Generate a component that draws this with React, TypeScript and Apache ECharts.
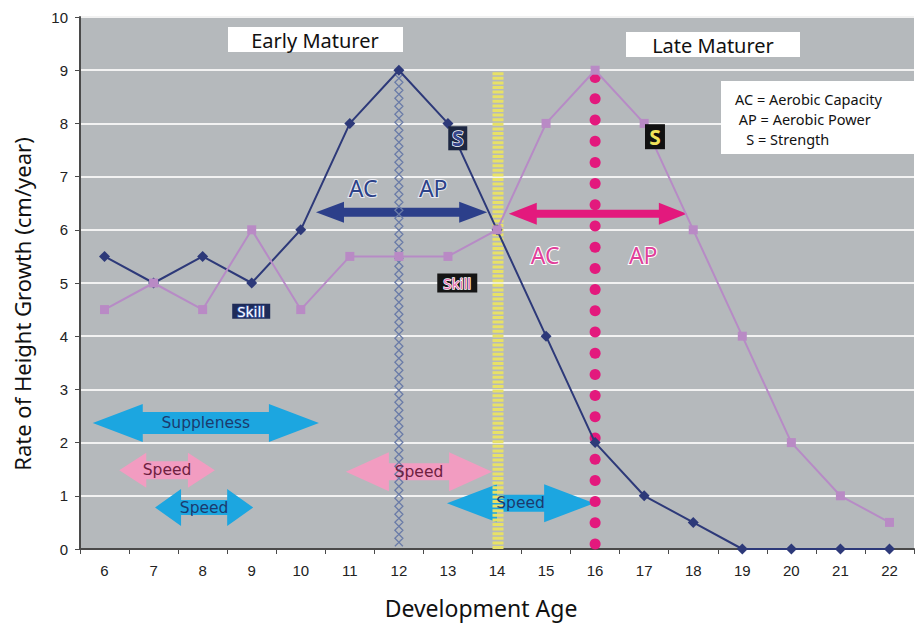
import React, { useEffect, useRef } from "react";
import * as echarts from "echarts";

// ---- data ----
const ages = ["6", "7", "8", "9", "10", "11", "12", "13", "14", "15", "16", "17", "18", "19", "20", "21", "22"];
const earlyMaturer = [5.5, 5, 5.5, 5, 6, 8, 9, 8, 6, 4, 2, 1, 0.5, 0, 0, 0, 0];
const lateMaturer = [4.5, 5, 4.5, 6, 4.5, 5.5, 5.5, 5.5, 6, 8, 9, 8, 6, 4, 2, 1, 0.5];

// double arrows (in age / growth units)
const arrowLabels = ["", "", "Suppleness", "Speed", "Speed", "Speed", "Speed"];
const arrowStart = [10.31, 14.24, 5.76, 6.3, 7.03, 10.92, 12.98];
const arrowEnd = [13.8, 17.87, 10.37, 8.25, 9.03, 13.9, 15.98];
const arrowLevel = [6.33, 6.3, 2.37, 1.48, 0.78, 1.45, 0.86];

// vertical markers (age, top value)
const markerAges = [12, 14, 16];
const markerTops = [9, 9, 9];

// text notes
const noteTexts = ["AC", "AP", "AC", "AP", "S", "S", "Skill", "Skill"];
const noteAges = [11.27, 12.7, 14.98, 16.98, 13.2, 17.22, 8.99, 13.19];
const noteValues = [6.78, 6.78, 5.53, 5.53, 7.72, 7.75, 4.47, 5.0];

const legendLines = ["AC = Aerobic Capacity", " AP = Aerobic Power", "   S = Strength"];
const xTitle = "Development Age";
const yTitle = "Rate of Height Growth (cm/year)";

// ---- styles ----
const arrowStyles = [
  { head: 28, headH: 21, shaft: 9, color: "#2c3f8a", text: "#1b3a6e" },
  { head: 28, headH: 22, shaft: 8, color: "#e3197d", text: "#1b3a6e" },
  { head: 50, headH: 38, shaft: 22, color: "#1ca6e0", text: "#1b3a6e" },
  { head: 27, headH: 35, shaft: 18, color: "#f29cc1", text: "#6e2040" },
  { head: 26, headH: 37, shaft: 15, color: "#1ca6e0", text: "#1b3a6e" },
  { head: 43, headH: 39, shaft: 17, color: "#f29cc1", text: "#6e2040" },
  { head: 50, headH: 38, shaft: 17, color: "#1ca6e0", text: "#1b3a6e" },
];

const noteStyles = [
  { fill: "#2c4288", stroke: "#e8eaf2", size: 23, box: null },
  { fill: "#2c4288", stroke: "#e8eaf2", size: 23, box: null },
  { fill: "#e0409a", stroke: "#ffffff", size: 23, box: null },
  { fill: "#e0409a", stroke: "#ffffff", size: 23, box: null },
  { fill: "#34468c", stroke: "#ffffff", size: 21, box: { w: 19, h: 24, c: "#1d2742" } },
  { fill: "#f0e25a", stroke: "#111111", size: 21, box: { w: 20, h: 25, c: "#111111" } },
  { fill: "#ffffff", stroke: "#3e5aa8", size: 15, box: { w: 38, h: 15, c: "#1e2b58" } },
  { fill: "#e36fb0", stroke: "#ffffff", size: 15, box: { w: 40, h: 19, c: "#151515" } },
];

const App: React.FC = () => {
  const ref = useRef<HTMLDivElement>(null);

  useEffect(() => {
    if (!ref.current) return;
    const chart = echarts.init(ref.current, null, { renderer: "svg" });

    const arrowData = arrowStart.map((s, i) => [s, arrowEnd[i], arrowLevel[i]]);
    const markerData = markerAges.map((a, i) => [a, markerTops[i]]);
    const noteData = noteAges.map((a, i) => [a, noteValues[i]]);

    const option: any = {
      animation: false,
      backgroundColor: "#ffffff",
      grid: {
        left: 80,
        right: 7,
        top: 17,
        bottom: 77,
        show: true,
        backgroundColor: "#b5b9bc",
        borderWidth: 0,
      },
      xAxis: [
        {
          type: "category",
          data: ages,
          boundaryGap: true,
          axisLine: { show: true, lineStyle: { color: "#4a4a4a", width: 2 } },
          axisTick: { show: true, inside: false, length: 5, alignWithLabel: false, lineStyle: { color: "#4a4a4a" } },
          axisLabel: { fontFamily: "Liberation Sans", fontSize: 15, color: "#222", margin: 14 },
          splitLine: { show: false },
        },
        {
          type: "value",
          min: 5.5,
          max: 22.5,
          show: false,
        },
      ],
      yAxis: {
        type: "value",
        min: 0,
        max: 10,
        interval: 1,
        axisLine: { show: true, lineStyle: { color: "#4a4a4a", width: 2 } },
        axisTick: { show: true, length: 5, lineStyle: { color: "#4a4a4a" } },
        axisLabel: { fontFamily: "Liberation Sans", fontSize: 15, color: "#222", margin: 12 },
        splitLine: { show: true, lineStyle: { color: "#f2f2f2", width: 2 } },
      },
      series: [
        {
          type: "custom",
          name: "arrows",
          xAxisIndex: 1,
          z: 2,
          data: arrowData,
          renderItem: (params: any, api: any) => {
            const i = params.dataIndex;
            const st = arrowStyles[i];
            const p1 = api.coord([api.value(0), api.value(2)]);
            const p2 = api.coord([api.value(1), api.value(2)]);
            const x1 = p1[0];
            const x2 = p2[0];
            const y = p1[1];
            const h = st.head;
            const H = st.headH / 2;
            const s = st.shaft / 2;
            const points = [
              [x1, y], [x1 + h, y - H], [x1 + h, y - s], [x2 - h, y - s], [x2 - h, y - H],
              [x2, y], [x2 - h, y + H], [x2 - h, y + s], [x1 + h, y + s], [x1 + h, y + H],
            ];
            return { type: "polygon", shape: { points }, style: { fill: st.color } };
          },
        },
        {
          type: "custom",
          name: "markers",
          xAxisIndex: 1,
          z: 3,
          data: markerData,
          renderItem: (params: any, api: any) => {
            const i = params.dataIndex;
            const top = api.coord([api.value(0), api.value(1)]);
            const bot = api.coord([api.value(0), 0]);
            const x = top[0];
            const children: any[] = [];
            if (i === 0) {
              const ptsA: number[][] = [];
              const ptsB: number[][] = [];
              let k = 0;
              for (let y = top[1]; y <= bot[1] - 1; y += 4) {
                const off = k % 2 === 0 ? 0 : 4;
                ptsA.push([x - off, y]);
                ptsB.push([x + off, y]);
                k++;
              }
              children.push({ type: "polyline", shape: { points: ptsA }, style: { stroke: "#6b7ca8", lineWidth: 1.3, fill: null } });
              children.push({ type: "polyline", shape: { points: ptsB }, style: { stroke: "#6b7ca8", lineWidth: 1.3, fill: null } });
            } else if (i === 1) {
              children.push({
                type: "line",
                shape: { x1: x + 1, y1: top[1] + 2, x2: x + 1, y2: bot[1] },
                style: { stroke: "#e8e166", lineWidth: 11, lineDash: [3, 1.6] },
              });
            } else {
              for (let y = bot[1] - 5; y >= top[1] + 6; y -= 21.2) {
                children.push({ type: "circle", shape: { cx: x, cy: y, r: 5.5 }, style: { fill: "#e3197d" } });
              }
            }
            return { type: "group", children };
          },
        },
        {
          type: "line",
          name: "Early Maturer",
          data: earlyMaturer,
          z: 4,
          symbol: "diamond",
          symbolSize: 11,
          lineStyle: { color: "#2d3979", width: 2 },
          itemStyle: { color: "#2d3979" },
        },
        {
          type: "line",
          name: "Late Maturer",
          data: lateMaturer,
          z: 4,
          symbol: "rect",
          symbolSize: 9,
          lineStyle: { color: "#b78bc6", width: 2 },
          itemStyle: { color: "#b98ac5" },
        },
        {
          type: "custom",
          name: "arrowText",
          xAxisIndex: 1,
          z: 5,
          data: arrowData,
          renderItem: (params: any, api: any) => {
            const i = params.dataIndex;
            const st = arrowStyles[i];
            const p1 = api.coord([api.value(0), api.value(2)]);
            const p2 = api.coord([api.value(1), api.value(2)]);
            return {
              type: "text",
              style: {
                text: arrowLabels[i],
                x: (p1[0] + p2[0]) / 2,
                y: p1[1],
                align: "center",
                verticalAlign: "middle",
                fill: st.text,
                fontFamily: "DejaVu Sans",
                fontSize: 15.5,
              },
            };
          },
        },
        {
          type: "custom",
          name: "notes",
          xAxisIndex: 1,
          z: 5,
          data: noteData,
          renderItem: (params: any, api: any) => {
            const i = params.dataIndex;
            const st = noteStyles[i];
            const p = api.coord([api.value(0), api.value(1)]);
            const children: any[] = [];
            if (st.box) {
              children.push({
                type: "rect",
                shape: { x: p[0] - st.box.w / 2, y: p[1] - st.box.h / 2, width: st.box.w, height: st.box.h },
                style: { fill: st.box.c },
              });
            }
            children.push({
              type: "text",
              style: {
                text: noteTexts[i],
                x: p[0],
                y: p[1],
                align: "center",
                verticalAlign: "middle",
                fill: st.fill,
                stroke: st.stroke,
                lineWidth: st.box ? 1.5 : 2,
                fontFamily: "Noto Sans",
                fontWeight: st.box && noteTexts[i] === "S" ? "bold" : "normal",
                fontSize: st.size,
              },
            });
            return { type: "group", children };
          },
        },
      ],
      graphic: [
        {
          type: "group",
          left: 228,
          top: 27,
          z: 50,
          children: [
            { type: "rect", z: 50, shape: { x: 0, y: 0, width: 175, height: 25 }, style: { fill: "#ffffff" } },
            { type: "text", z: 51, style: { text: "Early Maturer", x: 87, y: 13, align: "center", verticalAlign: "middle", fill: "#111", fontFamily: "Noto Sans", fontSize: 20 } },
          ],
        },
        {
          type: "group",
          left: 626,
          top: 32,
          z: 50,
          children: [
            { type: "rect", z: 50, shape: { x: 0, y: 0, width: 174, height: 25 }, style: { fill: "#ffffff" } },
            { type: "text", z: 51, style: { text: "Late Maturer", x: 87, y: 13, align: "center", verticalAlign: "middle", fill: "#111", fontFamily: "Noto Sans", fontSize: 20 } },
          ],
        },
        {
          type: "rect",
          left: 721,
          top: 81,
          z: 50,
          shape: { x: 0, y: 0, width: 193, height: 73 },
          style: { fill: "#ffffff" },
        },
        ...legendLines.map((t, i) => ({
          type: "text",
          x: 735,
          y: 98.5 + i * 20,
          z: 51,
          style: { text: t, x: 0, y: 0, verticalAlign: "middle", fill: "#111", fontFamily: "Noto Sans", fontSize: 14.5 },
        })),
        {
          type: "text",
          x: 481,
          y: 608,
          z: 51,
          style: { text: xTitle, x: 0, y: 0, align: "center", verticalAlign: "middle", fill: "#111", fontFamily: "Noto Sans", fontSize: 23 },
        },
        {
          type: "text",
          x: 22,
          y: 304,
          z: 51,
          rotation: Math.PI / 2,
          style: { text: yTitle, x: 0, y: 0, align: "center", verticalAlign: "middle", fill: "#111", fontFamily: "Noto Sans", fontSize: 22 },
        },
      ],
    };

    chart.setOption(option);
    return () => chart.dispose();
  }, []);

  return <div ref={ref} style={{ width: 921, height: 626, position: "absolute", left: 0, top: 0 }} />;
};

export default App;
